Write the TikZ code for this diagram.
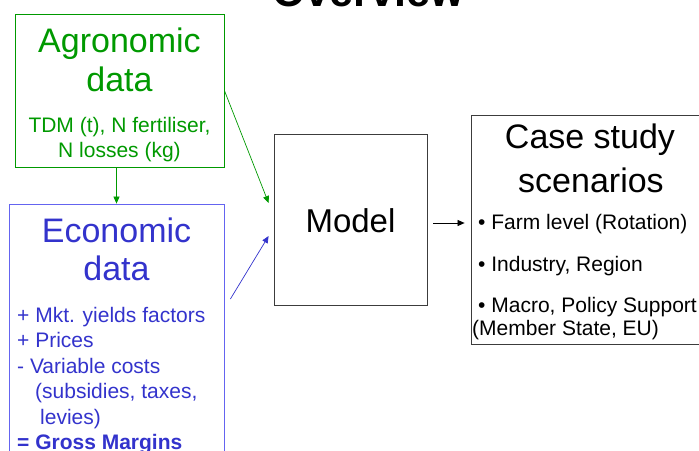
\documentclass[tikz,border=0pt]{standalone}
\usepackage{fontspec}
\setmainfont{Liberation Sans}
\usetikzlibrary{arrows.meta}
\definecolor{agrogreen}{RGB}{0,153,0}
\definecolor{ecoblue}{RGB}{51,51,204}
\definecolor{ecoframe}{RGB}{100,100,240}
\definecolor{boxgray}{RGB}{60,60,60}

\begin{document}
\begin{tikzpicture}[x=1pt,y=-1pt,
  boxe/.style={draw,rectangle,inner sep=0,line width=0.8pt},
  big/.style={inner sep=0,anchor=base,font=\fontsize{34}{40}\selectfont},
  small/.style={inner sep=0,anchor=base,font=\fontsize{21}{25}\selectfont},
  fleche/.style={-{Triangle[length=7pt,width=6pt]},line width=0.7pt}]
  \useasboundingbox (0,0) rectangle (699,450);
  \clip (0,0) rectangle (699,450);

  % --- Titre (coupé en haut) ---
  \node[anchor=base,inner sep=0,font=\fontsize{43}{50}\selectfont\bfseries]
    (titre) at (368,6) {Overview};

  % --- Cadres ---
  \node[boxe,draw=agrogreen,minimum width=209,minimum height=153] (agro) at (119.5,90.5) {};
  \node[boxe,draw=ecoframe,minimum width=215,minimum height=266] (econ) at (116.5,337) {};
  \node[boxe,draw=boxgray,minimum width=153,minimum height=171] (model) at (350.5,219.5) {};
  \node[boxe,draw=boxgray,minimum width=249,minimum height=229] (cas) at (595.5,229.5) {};

  % --- Données agronomiques ---
  \node[big,text=agrogreen] (agro1) at (119.5,52.5) {Agronomic};
  \node[big,text=agrogreen] (agro2) at (119.5,91.5) {data};
  \node[small,text=agrogreen] (agro3) at (119.5,132.5) {TDM (t), N fertiliser,};
  \node[small,text=agrogreen] (agro4) at (119.5,157) {N losses (kg)};

  % --- Données économiques ---
  \node[big,text=ecoblue] (eco1) at (116.5,242) {Economic};
  \node[big,text=ecoblue] (eco2) at (116.5,280) {data};
  \foreach \ligne/\xx/\yy [count=\i] in {{+ Mkt. yields factors}/17/322,
      {+ Prices}/17/347.5, {- Variable costs}/17/373,
      {(subsidies, taxes,}/35/398.5, {levies)}/40/424}{%
    \node[small,anchor=base west,text=ecoblue] (ecol\i) at (\xx,\yy) {\ligne};
  }
  \node[small,anchor=base west,text=ecoblue,font=\fontsize{21}{25}\selectfont\bfseries]
    (ecomarge) at (17,449.5) {= Gross Margins};

  % --- Modèle ---
  \node[inner sep=0,anchor=base,font=\fontsize{33}{40}\selectfont] (modtxt) at (350.5,232) {Model};

  % --- Scénarios ---
  \node[big] (cas1) at (590,148) {Case study};
  \node[big] (cas2) at (591,192) {scenarios};
  \node[small,anchor=base west] (cas3) at (478,229) {\textbullet\ Farm level (Rotation)};
  \node[small,anchor=base west] (cas4) at (478,271) {\textbullet\ Industry, Region};
  \node[small,anchor=base west] (cas5) at (478,312) {\textbullet\ Macro, Policy Support};
  \node[small,anchor=base west] (cas6) at (472,335) {(Member State, EU)};

  % --- Flèches ---
  \draw[fleche,agrogreen] (agro.south -| econ.north) -- (econ.north);
  \draw[fleche,agrogreen] (agro.east) -- ([xshift=-5pt,yshift=16.5pt]model.west);
  \draw[fleche,ecoblue] ([xshift=6pt,yshift=38pt]econ.east) -- ([xshift=-5pt,yshift=-16.5pt]model.west);
  \draw[fleche] ([xshift=6pt,yshift=-3.5pt]model.east) -- ([xshift=-6pt,yshift=6.5pt]cas.west);
\end{tikzpicture}
\end{document}
